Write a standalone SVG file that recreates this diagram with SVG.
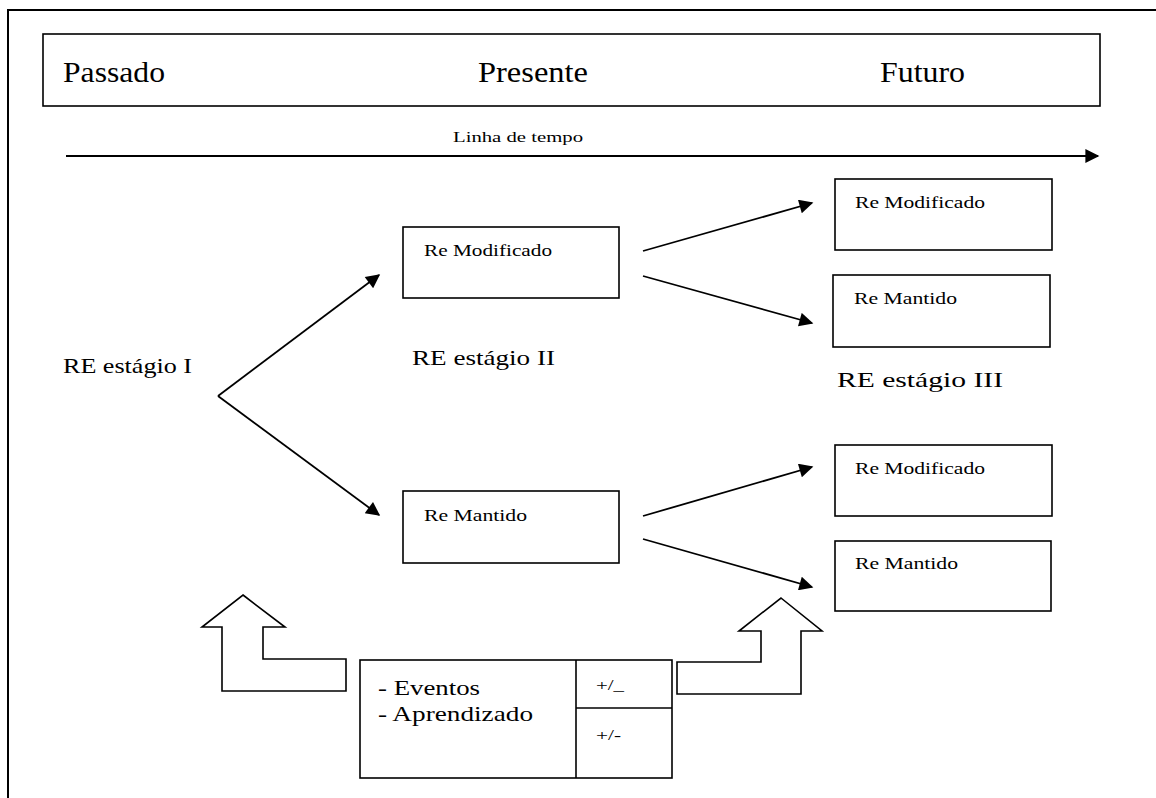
<svg xmlns="http://www.w3.org/2000/svg" width="1156" height="798" viewBox="0 0 1156 798">
<defs>
<style>
.b{fill:#fff;stroke:#000;stroke-width:1.6}
.c{stroke:#000;stroke-width:1.8;fill:none}
text{fill:#000}
</style>
<marker id="ah2" viewBox="0 0 10 10" refX="9" refY="5" markerWidth="18" markerHeight="14" markerUnits="userSpaceOnUse" orient="auto"><path d="M0,0 L10,5 L0,10 z" fill="#000"/></marker>
</defs>
<rect x="0" y="0" width="1156" height="798" fill="#fff"/>
<path d="M8,800 V10 H1160" fill="none" stroke="#000" stroke-width="2"/>
<g font-family="Liberation Serif, Times New Roman, serif">
<g id="header">
<rect class="b" x="43" y="34" width="1057" height="72"/>
<text x="63" y="82" font-size="30" textLength="102" lengthAdjust="spacingAndGlyphs">Passado</text>
<text x="478" y="82" font-size="30" textLength="110" lengthAdjust="spacingAndGlyphs">Presente</text>
<text x="880" y="82" font-size="30" textLength="85" lengthAdjust="spacingAndGlyphs">Futuro</text>
</g>
<g id="timeline">
<text x="453" y="142" font-size="14" textLength="130" lengthAdjust="spacingAndGlyphs">Linha de tempo</text>
<line x1="66" y1="156" x2="1098" y2="156" stroke="#000" stroke-width="2" marker-end="url(#ah2)"/>
</g>
<g id="stage1"><text x="63" y="373" font-size="22" textLength="129" lengthAdjust="spacingAndGlyphs">RE estágio I</text></g>
<g id="stage2"><text x="412" y="365" font-size="22" textLength="143" lengthAdjust="spacingAndGlyphs">RE estágio II</text></g>
<g id="stage3"><text x="837" y="387" font-size="22" textLength="166" lengthAdjust="spacingAndGlyphs">RE estágio III</text></g>
<g id="mod2"><rect class="b" x="403" y="227" width="216" height="71"/><text x="424" y="256" font-size="16" textLength="128" lengthAdjust="spacingAndGlyphs">Re Modificado</text></g>
<g id="man2"><rect class="b" x="403" y="491" width="216" height="72"/><text x="424" y="521" font-size="16" textLength="103" lengthAdjust="spacingAndGlyphs">Re Mantido</text></g>
<g id="mod3a"><rect class="b" x="835" y="179" width="217" height="71"/><text x="855" y="208" font-size="16" textLength="130" lengthAdjust="spacingAndGlyphs">Re Modificado</text></g>
<g id="man3a"><rect class="b" x="833" y="275" width="217" height="72"/><text x="854" y="304" font-size="16" textLength="103" lengthAdjust="spacingAndGlyphs">Re Mantido</text></g>
<g id="mod3b"><rect class="b" x="835" y="445" width="217" height="71"/><text x="855" y="474" font-size="16" textLength="130" lengthAdjust="spacingAndGlyphs">Re Modificado</text></g>
<g id="man3b"><rect class="b" x="835" y="541" width="216" height="70"/><text x="855" y="569" font-size="16" textLength="103" lengthAdjust="spacingAndGlyphs">Re Mantido</text></g>
<g id="influence">
<rect class="b" x="360" y="660" width="312" height="118"/>
<line x1="576" y1="660" x2="576" y2="778" stroke="#000" stroke-width="1.6"/>
<line x1="576" y1="708" x2="672" y2="708" stroke="#000" stroke-width="1.6"/>
<text x="378" y="695" font-size="22" textLength="102" lengthAdjust="spacingAndGlyphs">- Eventos</text>
<text x="378" y="721" font-size="22" textLength="155" lengthAdjust="spacingAndGlyphs">- Aprendizado</text>
<text x="596" y="690" font-size="14" textLength="28" lengthAdjust="spacingAndGlyphs">+/_</text>
<text x="596" y="740" font-size="14" textLength="25" lengthAdjust="spacingAndGlyphs">+/-</text>
</g>
</g>
<g id="blockarrow-left"><polygon class="b" points="243,595 285,627 263,627 263,659 346,659 346,691 222,691 222,627 202,627"/></g>
<g id="blockarrow-right"><polygon class="b" points="781,598 822,631 801,631 801,694 677,694 677,662 761,662 761,631 739,631"/></g>
<g id="connectors">
<line class="c" x1="218" y1="396" x2="379" y2="275" marker-end="url(#ah2)"/>
<line class="c" x1="218" y1="396" x2="379" y2="515" marker-end="url(#ah2)"/>
<line class="c" x1="643" y1="251" x2="812" y2="203" marker-end="url(#ah2)"/>
<line class="c" x1="643" y1="276" x2="812" y2="323" marker-end="url(#ah2)"/>
<line class="c" x1="643" y1="516" x2="812" y2="467" marker-end="url(#ah2)"/>
<line class="c" x1="643" y1="539" x2="812" y2="587" marker-end="url(#ah2)"/>
</g>
</svg>
